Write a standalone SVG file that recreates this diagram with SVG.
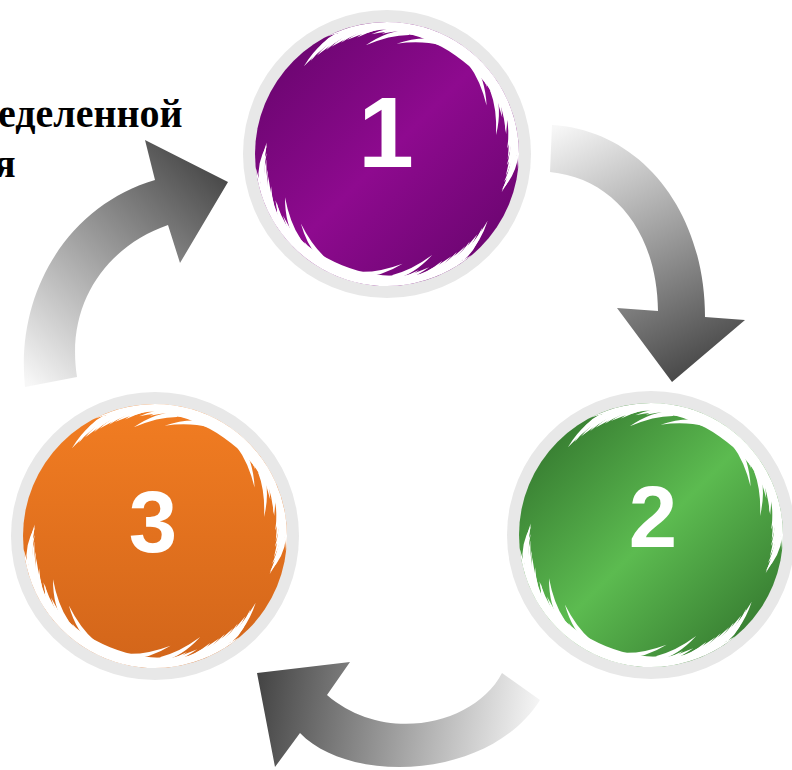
<svg xmlns="http://www.w3.org/2000/svg" xmlns:xlink="http://www.w3.org/1999/xlink" width="792" height="770" viewBox="0 0 792 770">
<style>
.ring{fill:#e8e8e8}
.num{font-family:"Liberation Sans",Arial,sans-serif;font-weight:bold;fill:#ffffff;text-anchor:middle}
.cap{font-family:"Liberation Serif","Times New Roman",serif;font-weight:bold;font-size:40px;fill:#000000}
.hair{fill:#ffffff}
</style>
<defs>
<linearGradient id="gPurple" x1="0" y1="0" x2="1" y2="1">
<stop offset="0" stop-color="#620468"/>
<stop offset="0.5" stop-color="#8e0a8f"/>
<stop offset="1" stop-color="#620468"/>
</linearGradient>
<linearGradient id="gGreen" x1="0" y1="0" x2="1" y2="1">
<stop offset="0" stop-color="#2c6a28"/>
<stop offset="0.5" stop-color="#5cbb50"/>
<stop offset="1" stop-color="#2c6a28"/>
</linearGradient>
<linearGradient id="gOrange" x1="0" y1="0" x2="0" y2="1">
<stop offset="0" stop-color="#f27d22"/>
<stop offset="1" stop-color="#d2651a"/>
</linearGradient>
<linearGradient id="gA" gradientUnits="userSpaceOnUse" x1="560" y1="125" x2="690" y2="382">
<stop offset="0" stop-color="#f7f7f7"/>
<stop offset="1" stop-color="#444444"/>
</linearGradient>
<linearGradient id="gB" gradientUnits="userSpaceOnUse" x1="540" y1="720" x2="257" y2="680">
<stop offset="0" stop-color="#f7f7f7"/>
<stop offset="1" stop-color="#444444"/>
</linearGradient>
<linearGradient id="gC" gradientUnits="userSpaceOnUse" x1="30" y1="385" x2="228" y2="170">
<stop offset="0" stop-color="#f7f7f7"/>
<stop offset="1" stop-color="#444444"/>
</linearGradient>
<path id="band" class="hair" d="M61.97,-116.55 A132,132 0 0 1 61.97,116.55 A146,146 0 0 0 61.97,-116.55 Z"/>
<path id="hA" class="hair" d="M131,-4 Q131,25 110,50 Q125,22 127,-4 Z"/>
<path id="hB" class="hair" d="M131,-3 Q130,16 116,32 Q125,14 127,-3 Z"/>
<path id="hC" class="hair" d="M126,-3 Q123,18 104,38 Q118,16 121,-3 Z"/>
<g id="furHalf">
<use xlink:href="#band"/>
<use xlink:href="#hA" transform="rotate(2)"/><use xlink:href="#hB" transform="rotate(6)"/><use xlink:href="#hC" transform="rotate(9)"/><use xlink:href="#hA" transform="rotate(13)"/><use xlink:href="#hB" transform="rotate(17)"/><use xlink:href="#hA" transform="rotate(21)"/><use xlink:href="#hC" transform="rotate(25)"/><use xlink:href="#hB" transform="rotate(29)"/><use xlink:href="#hA" transform="rotate(33)"/><use xlink:href="#hB" transform="rotate(37)"/><use xlink:href="#hA" transform="rotate(41)"/><use xlink:href="#hB" transform="rotate(45)"/><use xlink:href="#hA" transform="rotate(49)"/><use xlink:href="#hB" transform="rotate(53)"/><use xlink:href="#hB" transform="rotate(57)"/>
<use xlink:href="#hB" transform="rotate(-2) scale(1,-1)"/><use xlink:href="#hA" transform="rotate(-5) scale(1,-1)"/><use xlink:href="#hC" transform="rotate(-10) scale(1,-1)"/><use xlink:href="#hB" transform="rotate(-14) scale(1,-1)"/><use xlink:href="#hA" transform="rotate(-18) scale(1,-1)"/><use xlink:href="#hB" transform="rotate(-22) scale(1,-1)"/><use xlink:href="#hC" transform="rotate(-26) scale(1,-1)"/><use xlink:href="#hA" transform="rotate(-30) scale(1,-1)"/><use xlink:href="#hB" transform="rotate(-34) scale(1,-1)"/><use xlink:href="#hA" transform="rotate(-38) scale(1,-1)"/><use xlink:href="#hB" transform="rotate(-42) scale(1,-1)"/><use xlink:href="#hA" transform="rotate(-46) scale(1,-1)"/><use xlink:href="#hB" transform="rotate(-50) scale(1,-1)"/><use xlink:href="#hA" transform="rotate(-54) scale(1,-1)"/><use xlink:href="#hB" transform="rotate(-59) scale(1,-1)"/>
</g>
<g id="fur">
<use xlink:href="#furHalf" transform="rotate(-55)"/>
<use xlink:href="#furHalf" transform="rotate(112)"/>
</g>
</defs>

<g id="caption">
<text class="cap" x="-2" y="127">еделенной</text>
<text class="cap" x="-6" y="177">я</text>
</g>

<g id="connectors">
<path id="arrow-1-2" fill="url(#gA)" d="M552,125 C640,130 705,210 705,317 L745,320 L672,382 L617,308 L658,311 C657,230 612,178 550,172 Z"/>
<path id="arrow-2-3" fill="url(#gB)" d="M502,673 C475,725 385,745 327,695 L350,662 L257,673 L275,767 L300,733 C350,785 490,780 540,700 Z"/>
<path id="arrow-3-1" fill="url(#gC)" d="M25,387 C15,290 70,205 155,180 L145,140 L228,182 L180,263 L168,225 C110,245 65,300 77,377 Z"/>
</g>

<g id="node1">
<circle class="ring" cx="387" cy="154" r="144"/>
<circle cx="387" cy="154" r="132" fill="url(#gPurple)"/>
<use xlink:href="#fur" transform="translate(387,154)"/>
<text class="num" x="386" y="167" font-size="100">1</text>
</g>

<g id="node2">
<circle class="ring" cx="651" cy="535" r="144"/>
<circle cx="651" cy="535" r="132" fill="url(#gGreen)"/>
<use xlink:href="#fur" transform="translate(651,535)"/>
<text class="num" x="653" y="547" font-size="87">2</text>
</g>

<g id="node3">
<circle class="ring" cx="155" cy="536" r="144"/>
<circle cx="155" cy="536" r="132" fill="url(#gOrange)"/>
<use xlink:href="#fur" transform="translate(155,536)"/>
<text class="num" x="153" y="552" font-size="87">3</text>
</g>
</svg>
